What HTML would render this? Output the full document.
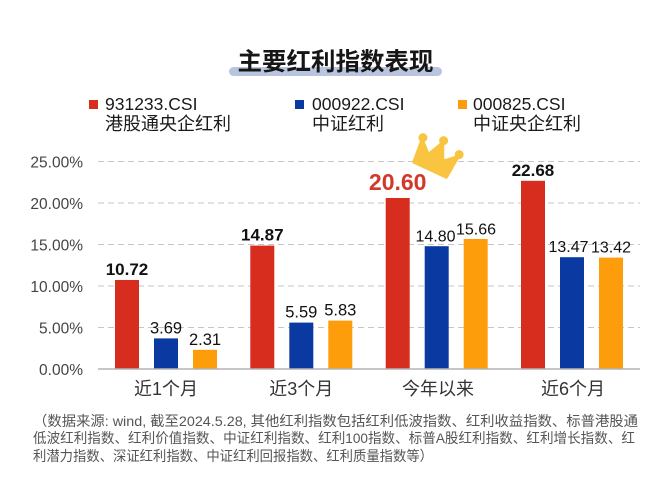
<!DOCTYPE html>
<html>
<head>
<meta charset="utf-8">
<style>
  html, body { margin: 0; padding: 0; background: #ffffff; }
  body { width: 672px; height: 500px; overflow: hidden; }
  svg { display: block; font-family: "Liberation Sans", "Noto Sans CJK SC", sans-serif; }
</style>
</head>
<body>
<svg width="672" height="500" viewBox="0 0 672 500" xmlns="http://www.w3.org/2000/svg">
  <rect x="0" y="0" width="672" height="500" fill="#ffffff"/>

  <!-- Title -->
  <rect x="229" y="67" width="213" height="9" rx="4.5" fill="#b9c5de"/>
  <text x="335.5" y="70" text-anchor="middle" font-size="24.5" font-weight="bold" fill="#161616">主要红利指数表现</text>

  <!-- Legend -->
  <rect x="89" y="100" width="9" height="9" fill="#d62d1e"/>
  <text x="105" y="110" font-size="17.5" fill="#1a1a1a">931233.CSI</text>
  <text x="105" y="130" font-size="18" fill="#1a1a1a">港股通央企红利</text>

  <rect x="295" y="100" width="9" height="9" fill="#0a39a2"/>
  <text x="312" y="110" font-size="17.5" fill="#1a1a1a">000922.CSI</text>
  <text x="312" y="130" font-size="18" fill="#1a1a1a">中证红利</text>

  <rect x="458" y="100" width="9" height="9" fill="#fd9d0b"/>
  <text x="473" y="110" font-size="17.5" fill="#1a1a1a">000825.CSI</text>
  <text x="473" y="130" font-size="18" fill="#1a1a1a">中证央企红利</text>

  <!-- Gridlines -->
  <g stroke="#c6c6c6" stroke-width="1" stroke-dasharray="6 4">
    <line x1="98" y1="161.5" x2="640" y2="161.5"/>
    <line x1="98" y1="203" x2="640" y2="203"/>
    <line x1="98" y1="244.5" x2="640" y2="244.5"/>
    <line x1="98" y1="286" x2="640" y2="286"/>
    <line x1="98" y1="327.5" x2="640" y2="327.5"/>
  </g>

  <!-- Y axis labels -->
  <g font-size="15.5" fill="#444444" text-anchor="end">
    <text x="83" y="167.5">25.00%</text>
    <text x="83" y="209">20.00%</text>
    <text x="83" y="250.5">15.00%</text>
    <text x="83" y="292">10.00%</text>
    <text x="83" y="333.5">5.00%</text>
    <text x="83" y="375">0.00%</text>
  </g>

  <!-- Crown -->
  <g transform="translate(436,157) rotate(25)" fill="#f9c540" stroke="#f9c540" stroke-width="3" stroke-linejoin="round">
    <polygon points="-18,14 -20,-10 -8,1 0,-16 8,1 20,-10 18,14"/>
    <circle cx="-20" cy="-12" r="4.5" stroke="none"/>
    <circle cx="0" cy="-18" r="4.5" stroke="none"/>
    <circle cx="20" cy="-12" r="4.5" stroke="none"/>
  </g>

  <!-- Bars -->
  <g>
    <rect x="115" y="280.0" width="24" height="89.0" fill="#d62d1e"/>
    <rect x="154" y="338.4" width="24" height="30.6" fill="#0a39a2"/>
    <rect x="193" y="349.8" width="24" height="19.2" fill="#fd9d0b"/>

    <rect x="250.3" y="245.6" width="24" height="123.4" fill="#d62d1e"/>
    <rect x="289.3" y="322.6" width="24" height="46.4" fill="#0a39a2"/>
    <rect x="328.3" y="320.6" width="24" height="48.4" fill="#fd9d0b"/>

    <rect x="385.7" y="198.0" width="24" height="171.0" fill="#d62d1e"/>
    <rect x="424.7" y="246.2" width="24" height="122.8" fill="#0a39a2"/>
    <rect x="463.7" y="239.0" width="24" height="130.0" fill="#fd9d0b"/>

    <rect x="521" y="180.8" width="24" height="188.2" fill="#d62d1e"/>
    <rect x="560" y="257.2" width="24" height="111.8" fill="#0a39a2"/>
    <rect x="599" y="257.6" width="24" height="111.4" fill="#fd9d0b"/>
  </g>

  <!-- Axis line -->
  <line x1="98" y1="369" x2="640" y2="369" stroke="#b3b3b3" stroke-width="1.5"/>

  <!-- Value labels -->
  <g text-anchor="middle" fill="#111111">
    <text x="127" y="275" font-size="17" font-weight="bold">10.72</text>
    <text x="166" y="333.4" font-size="16.5">3.69</text>
    <text x="205" y="344.8" font-size="16.5">2.31</text>

    <text x="262.3" y="240.6" font-size="17" font-weight="bold">14.87</text>
    <text x="301.3" y="317.6" font-size="16.5">5.59</text>
    <text x="340.3" y="315.6" font-size="16.5">5.83</text>

    <text x="397.7" y="190" font-size="23" font-weight="bold" fill="#d3392b">20.60</text>
    <text x="435.5" y="241.5" font-size="16">14.80</text>
    <text x="476" y="234.5" font-size="16">15.66</text>

    <text x="533" y="176" font-size="17" font-weight="bold">22.68</text>
    <text x="568.5" y="252" font-size="16">13.47</text>
    <text x="611" y="252.4" font-size="16">13.42</text>
  </g>

  <!-- Category labels -->
  <g text-anchor="middle" font-size="18" fill="#333333">
    <text x="166" y="395">近1个月</text>
    <text x="301.3" y="395">近3个月</text>
    <text x="438" y="395">今年以来</text>
    <text x="573" y="395">近6个月</text>
  </g>

  <!-- Footer note -->
  <g font-size="14" fill="#555555">
    <text x="33" y="426" textLength="605" lengthAdjust="spacingAndGlyphs">（数据来源: wind, 截至2024.5.28, 其他红利指数包括红利低波指数、红利收益指数、标普港股通</text>
    <text x="33" y="443" textLength="602" lengthAdjust="spacingAndGlyphs">低波红利指数、红利价值指数、中证红利指数、红利100指数、标普A股红利指数、红利增长指数、红</text>
    <text x="33" y="461" textLength="400" lengthAdjust="spacingAndGlyphs">利潜力指数、深证红利指数、中证红利回报指数、红利质量指数等）</text>
  </g>
</svg>
</body>
</html>
